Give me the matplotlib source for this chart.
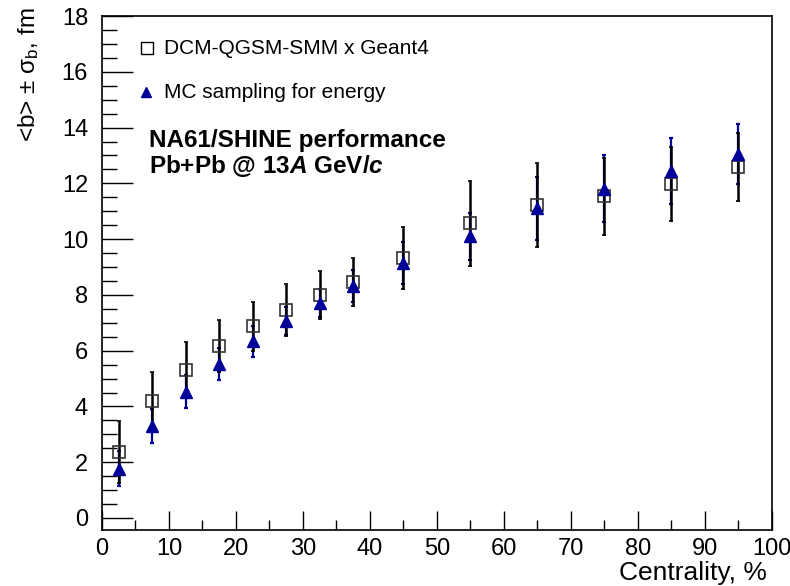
# <b> vs centrality, DCM-QGSM-SMM x Geant4 vs MC sampling
import numpy as np
import matplotlib
matplotlib.use('Agg')
import matplotlib.pyplot as plt
from matplotlib.ticker import MultipleLocator

plt.rcParams['font.family'] = ['Liberation Sans', 'DejaVu Sans']
plt.rcParams['mathtext.fontset'] = 'custom'
plt.rcParams['mathtext.rm'] = 'Liberation Sans'
plt.rcParams['mathtext.it'] = 'Liberation Sans:italic'
plt.rcParams['mathtext.bf'] = 'Liberation Sans:bold'
plt.rcParams['mathtext.bfit'] = 'Liberation Sans:bold:italic'

# data
centrality = [2.5, 7.5, 12.5, 17.5, 22.5, 27.5, 32.5, 37.5, 45, 55, 65, 75, 85, 95]
b_dcm = [2.37, 4.19, 5.3, 6.16, 6.88, 7.46, 7.99, 8.48, 9.32, 10.57, 11.22, 11.54, 11.97, 12.58]
sig_dcm = [1.12, 1.05, 1.0, 0.93, 0.88, 0.92, 0.85, 0.86, 1.12, 1.52, 1.5, 1.38, 1.33, 1.22]
b_mc = [1.77, 3.3, 4.53, 5.52, 6.34, 7.05, 7.72, 8.32, 9.14, 10.1, 11.1, 11.8, 12.44, 13.05]
sig_mc = [0.63, 0.62, 0.6, 0.57, 0.55, 0.5, 0.5, 0.58, 0.74, 0.85, 1.12, 1.2, 1.18, 1.08]

blue = '#000099'

fig = plt.figure(figsize=(7.9, 5.86), dpi=100)
ax = fig.add_axes([0.129, 0.0956, 0.848, 0.877])

# MC sampling first, DCM on top
ax.errorbar(centrality, b_mc, yerr=sig_mc, fmt='none', ecolor=blue, elinewidth=1.6,
            capsize=1.5, capthick=1.6, zorder=2)
ax.errorbar(centrality, b_dcm, yerr=sig_dcm, fmt='s', mfc='none', mec='#333333', mew=1.2,
            ms=9, color='black', ecolor='black', elinewidth=1.8, capsize=1.5, capthick=1.8,
            zorder=3)
ax.plot(centrality, b_mc, '^', color=blue, ms=8.5, zorder=4, ls='none')

ax.set_xlim(0, 100)
ax.set_ylim(-0.43, 18)

ax.xaxis.set_major_locator(MultipleLocator(10))
ax.xaxis.set_minor_locator(MultipleLocator(5))
ax.yaxis.set_major_locator(MultipleLocator(2))
ax.yaxis.set_minor_locator(MultipleLocator(0.5))
ax.tick_params(axis='both', which='both', direction='in', labelsize=17, width=1)
ax.tick_params(axis='y', which='major', length=22, pad=10)
ax.tick_params(axis='y', which='minor', length=11)
ax.tick_params(axis='x', which='major', length=14, pad=6)
ax.tick_params(axis='x', which='minor', length=7)
for s in ax.spines.values():
    s.set_linewidth(1.2)

ax.set_xlabel('Centrality, %', fontsize=19, loc='right')
ax.xaxis.label.set_va('center')
ax.xaxis.set_label_coords(0.993, -0.084)
ax.set_ylabel(r'<b> $\pm$ $\mathrm{\sigma_b}$, fm', fontsize=17.5, loc='top')
ax.yaxis.label.set_va('center')
ax.yaxis.set_label_coords(-0.110, 1.016)

# legend drawn by hand like ROOT's TLegend
ax.plot([0.067], [0.937], 's', transform=ax.transAxes, mfc='none', mec='black', mew=1, ms=8)
ax.text(0.093, 0.937, 'DCM-QGSM-SMM x Geant4', transform=ax.transAxes, fontsize=15, va='center')
ax.plot([0.066], [0.852], '^', transform=ax.transAxes, color=blue, ms=7)
ax.text(0.093, 0.852, 'MC sampling for energy', transform=ax.transAxes, fontsize=15, va='center')

ax.text(0.07, 0.757, 'NA61/SHINE performance', transform=ax.transAxes, fontsize=17.5,
        fontweight='bold', va='center')
ax.text(0.07, 0.708, r'Pb+Pb @ 13$\mathbfit{A}$ GeV/$\mathbfit{c}$', transform=ax.transAxes,
        fontsize=17.5, fontweight='bold', va='center')

fig.savefig('out.png', dpi=100)
